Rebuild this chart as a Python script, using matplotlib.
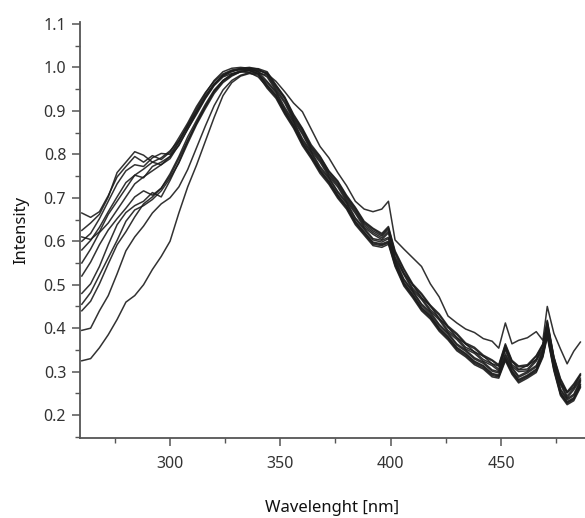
import matplotlib
matplotlib.use("Agg")
import matplotlib.pyplot as plt
from matplotlib.ticker import MultipleLocator, FixedLocator

plt.rcParams['font.family'] = ['Noto Sans', 'DejaVu Sans']

wavelength = [260, 264, 268, 272, 276, 280, 284, 288, 292, 296, 300, 304, 308, 312, 316, 320,
              324, 328, 332, 336, 340, 344, 348, 352, 356, 360, 364, 368, 372, 376, 380, 384,
              388, 392, 396, 399, 402, 406, 410, 414, 418, 422, 426, 430, 434, 438, 442, 446,
              449, 452, 455, 458, 462, 466, 469, 471, 474, 477, 480, 483, 486]

curve_a = [0.665, 0.655, 0.668, 0.705, 0.748, 0.772, 0.795, 0.782, 0.797, 0.788, 0.805, 0.838, 0.872, 0.91, 0.942, 0.968, 0.985, 0.994, 0.998, 1.0, 0.996,
           0.984, 0.955, 0.928, 0.885, 0.855, 0.815, 0.79, 0.756, 0.733, 0.70, 0.672, 0.64, 0.624, 0.612,
           0.628, 0.572, 0.526, 0.50, 0.47, 0.452, 0.422, 0.403, 0.378, 0.364, 0.345, 0.336, 0.318, 0.313, 0.356, 0.324, 0.305, 0.314, 0.328, 0.362, 0.41, 0.333, 0.274, 0.252, 0.264, 0.292]
curve_b = [0.625, 0.642, 0.662, 0.702, 0.758, 0.782, 0.806, 0.798, 0.782, 0.792, 0.808, 0.832, 0.865, 0.90, 0.935, 0.962, 0.98, 0.99, 0.996, 0.993, 0.985,
           0.965, 0.942, 0.904, 0.873, 0.832, 0.803, 0.768, 0.744, 0.712, 0.687, 0.651, 0.627, 0.603, 0.598,
           0.606, 0.555, 0.51, 0.483, 0.453, 0.433, 0.406, 0.386, 0.361, 0.347, 0.329, 0.319, 0.301, 0.297, 0.337, 0.307, 0.287, 0.297, 0.311, 0.345, 0.392, 0.315, 0.257, 0.235, 0.245, 0.276]
curve_c = [0.60, 0.618, 0.652, 0.692, 0.732, 0.762, 0.776, 0.772, 0.792, 0.802, 0.80, 0.83, 0.868, 0.905, 0.94, 0.97, 0.99, 0.998, 1.0, 0.998, 0.997,
           0.99, 0.96, 0.932, 0.892, 0.86, 0.822, 0.796, 0.762, 0.739, 0.706, 0.678, 0.646, 0.63, 0.618,
           0.634, 0.578, 0.537, 0.502, 0.48, 0.453, 0.433, 0.405, 0.388, 0.366, 0.356, 0.338, 0.327, 0.316, 0.364, 0.326, 0.313, 0.316, 0.337, 0.364, 0.418, 0.334, 0.284, 0.254, 0.272, 0.295]
curve_d = [0.58, 0.602, 0.632, 0.668, 0.702, 0.735, 0.752, 0.766, 0.782, 0.776, 0.795, 0.82, 0.858, 0.892, 0.928, 0.958, 0.978, 0.986, 0.99, 0.988, 0.978,
           0.955, 0.932, 0.895, 0.863, 0.823, 0.793, 0.76, 0.734, 0.702, 0.677, 0.641, 0.617, 0.593, 0.59,
           0.596, 0.545, 0.50, 0.473, 0.443, 0.424, 0.396, 0.376, 0.351, 0.337, 0.319, 0.309, 0.291, 0.288, 0.328, 0.297, 0.277, 0.288, 0.301, 0.336, 0.383, 0.305, 0.248, 0.227, 0.236, 0.266]
curve_e = [0.55, 0.582, 0.62, 0.642, 0.672, 0.702, 0.732, 0.748, 0.762, 0.776, 0.79, 0.822, 0.858, 0.895, 0.93, 0.96, 0.982, 0.992, 0.996, 0.997, 0.99,
           0.978, 0.947, 0.918, 0.878, 0.846, 0.808, 0.782, 0.749, 0.725, 0.692, 0.664, 0.632, 0.616, 0.604,
           0.619, 0.56, 0.523, 0.488, 0.466, 0.439, 0.419, 0.391, 0.374, 0.352, 0.342, 0.324, 0.314, 0.302, 0.35, 0.312, 0.30, 0.302, 0.324, 0.35, 0.405, 0.32, 0.27, 0.24, 0.258, 0.281]
curve_f = [0.61, 0.604, 0.622, 0.662, 0.692, 0.722, 0.752, 0.746, 0.772, 0.782, 0.795, 0.828, 0.864, 0.898, 0.932, 0.962, 0.982, 0.992, 0.996, 0.998, 0.994,
           0.985, 0.968, 0.944, 0.918, 0.898, 0.858, 0.818, 0.792, 0.758, 0.728, 0.692, 0.674, 0.668, 0.674,
           0.692, 0.603, 0.582, 0.562, 0.542, 0.502, 0.472, 0.428, 0.412, 0.398, 0.39, 0.376, 0.37, 0.354, 0.412, 0.364, 0.372, 0.378, 0.392, 0.372, 0.45, 0.388, 0.352, 0.318, 0.347, 0.368]
curve_g = [0.52, 0.552, 0.592, 0.626, 0.652, 0.676, 0.702, 0.716, 0.706, 0.722, 0.755, 0.795, 0.84, 0.878, 0.915, 0.948, 0.97, 0.984, 0.99, 0.992, 0.985,
           0.96, 0.937, 0.90, 0.868, 0.828, 0.798, 0.764, 0.739, 0.707, 0.682, 0.646, 0.622, 0.598, 0.594,
           0.60, 0.55, 0.505, 0.478, 0.448, 0.429, 0.401, 0.381, 0.356, 0.342, 0.324, 0.314, 0.296, 0.292, 0.332, 0.302, 0.282, 0.292, 0.306, 0.34, 0.388, 0.31, 0.252, 0.231, 0.24, 0.271]
curve_h = [0.48, 0.502, 0.542, 0.592, 0.638, 0.666, 0.682, 0.692, 0.712, 0.702, 0.74, 0.782, 0.83, 0.872, 0.91, 0.944, 0.968, 0.982, 0.99, 0.993, 0.987,
           0.982, 0.951, 0.922, 0.882, 0.85, 0.812, 0.786, 0.753, 0.729, 0.696, 0.668, 0.636, 0.62, 0.608,
           0.623, 0.564, 0.527, 0.492, 0.47, 0.443, 0.423, 0.395, 0.378, 0.356, 0.346, 0.328, 0.318, 0.306, 0.354, 0.316, 0.304, 0.306, 0.328, 0.354, 0.41, 0.324, 0.274, 0.244, 0.262, 0.285]
curve_i = [0.455, 0.482, 0.522, 0.562, 0.602, 0.646, 0.672, 0.682, 0.696, 0.716, 0.745, 0.78, 0.825, 0.868, 0.905, 0.94, 0.965, 0.98, 0.99, 0.995, 0.99,
           0.968, 0.945, 0.908, 0.876, 0.836, 0.806, 0.772, 0.747, 0.715, 0.69, 0.654, 0.63, 0.606, 0.602,
           0.609, 0.558, 0.513, 0.486, 0.456, 0.437, 0.409, 0.389, 0.364, 0.35, 0.332, 0.322, 0.304, 0.30, 0.341, 0.31, 0.29, 0.30, 0.314, 0.348, 0.396, 0.318, 0.26, 0.238, 0.248, 0.279]
curve_j = [0.44, 0.462, 0.502, 0.548, 0.592, 0.622, 0.656, 0.686, 0.702, 0.722, 0.75, 0.79, 0.832, 0.872, 0.91, 0.945, 0.97, 0.984, 0.993, 0.996, 0.992,
           0.988, 0.958, 0.93, 0.889, 0.858, 0.818, 0.794, 0.76, 0.737, 0.703, 0.676, 0.643, 0.628, 0.615,
           0.631, 0.575, 0.534, 0.499, 0.477, 0.45, 0.43, 0.402, 0.385, 0.363, 0.353, 0.335, 0.325, 0.313, 0.361, 0.323, 0.311, 0.313, 0.335, 0.361, 0.416, 0.331, 0.281, 0.251, 0.269, 0.292]
curve_k = [0.395, 0.40, 0.44, 0.475, 0.525, 0.578, 0.61, 0.635, 0.665, 0.686, 0.70, 0.725, 0.765, 0.815, 0.865, 0.912, 0.948, 0.97, 0.982, 0.988, 0.985,
           0.958, 0.935, 0.898, 0.866, 0.826, 0.796, 0.762, 0.737, 0.705, 0.68, 0.644, 0.62, 0.596, 0.592,
           0.598, 0.548, 0.503, 0.476, 0.446, 0.427, 0.399, 0.379, 0.354, 0.34, 0.322, 0.312, 0.294, 0.29, 0.33, 0.30, 0.28, 0.29, 0.304, 0.338, 0.386, 0.308, 0.25, 0.229, 0.238, 0.269]
curve_l = [0.325, 0.33, 0.355, 0.385, 0.42, 0.46, 0.475, 0.50, 0.535, 0.565, 0.60, 0.665, 0.725, 0.775, 0.83, 0.885, 0.935, 0.965, 0.98, 0.986, 0.982,
           0.952, 0.929, 0.892, 0.86, 0.82, 0.79, 0.756, 0.731, 0.699, 0.674, 0.638, 0.614, 0.59, 0.586,
           0.593, 0.542, 0.497, 0.47, 0.44, 0.421, 0.393, 0.373, 0.348, 0.334, 0.316, 0.306, 0.288, 0.285, 0.325, 0.294, 0.274, 0.285, 0.298, 0.333, 0.38, 0.302, 0.245, 0.224, 0.233, 0.263]

curves = [curve_a, curve_b, curve_c, curve_d, curve_e, curve_f,
          curve_g, curve_h, curve_i, curve_j, curve_k, curve_l]

x_ticks = [300, 350, 400, 450]
y_ticks = [0.2, 0.3, 0.4, 0.5, 0.6, 0.7, 0.8, 0.9, 1.0, 1.1]
y_tick_labels = ["0.2", "0.3", "0.4", "0.5", "0.6", "0.7", "0.8", "0.9", "1.0", "1.1"]

fig = plt.figure(figsize=(5.85, 5.18), dpi=100)
ax = fig.add_axes([0.1368, 0.155, 0.8632, 0.803])

for c in curves:
    ax.plot(wavelength, c, color='#1c1c1c', linewidth=1.1, alpha=0.9)

ax.set_xlim(259.2, 488.1)
ax.set_ylim(0.148, 1.105)

ax.xaxis.set_major_locator(FixedLocator(x_ticks))
ax.xaxis.set_minor_locator(MultipleLocator(25))
ax.yaxis.set_major_locator(FixedLocator(y_ticks))
ax.set_yticklabels(y_tick_labels)
ax.yaxis.set_minor_locator(MultipleLocator(0.05))

for s in ['top', 'right']:
    ax.spines[s].set_visible(False)
for s in ['left', 'bottom']:
    ax.spines[s].set_color('#555555')
    ax.spines[s].set_linewidth(1.3)

ax.tick_params(axis='both', which='major', direction='out', length=6, width=1.1,
               color='#555555', labelsize=11.5, labelcolor='#333333', pad=4)
ax.tick_params(axis='both', which='minor', direction='out', length=3.5, width=1.0,
               color='#555555')
ax.tick_params(axis='x', which='major', pad=7)

ax.set_xlabel('Wavelenght [nm]', fontsize=12, color='#111111', labelpad=20)
ax.set_ylabel('Intensity', fontsize=12, color='#111111', labelpad=10)

fig.savefig('out.png', dpi=100, facecolor='white')
